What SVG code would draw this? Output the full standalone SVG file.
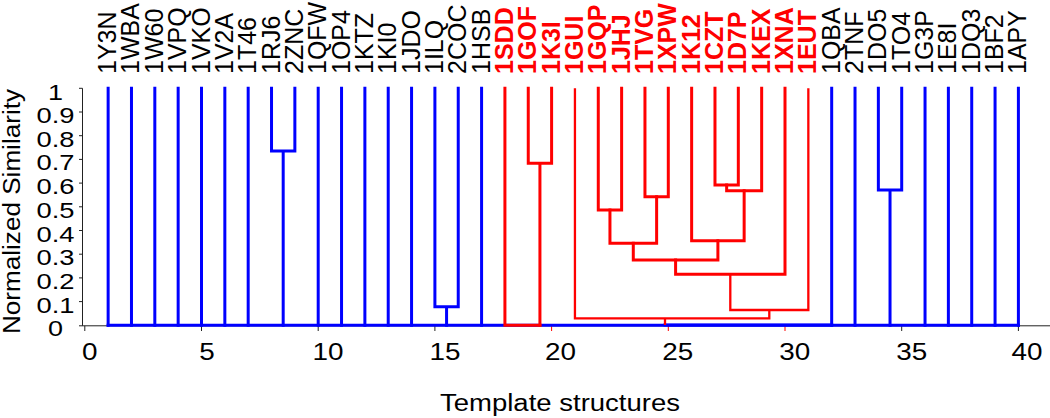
<svg xmlns="http://www.w3.org/2000/svg" width="1050" height="418" viewBox="0 0 1050 418">
<style>
.b{stroke:#0000ff;stroke-width:3;fill:none;stroke-linecap:square}
.r{stroke:#ff0000;stroke-width:3;fill:none;stroke-linecap:square}
.rt{stroke:#ff0000;stroke-width:2.3;fill:none}
.ax{stroke:#222;stroke-width:1;fill:none}
.tk{font-family:"Liberation Sans",Arial,sans-serif;font-size:22.5px;fill:#000;text-anchor:middle}
.xt{font-family:"Liberation Sans",Arial,sans-serif;font-size:23px;fill:#000;text-anchor:middle}
.ttl{font-family:"Liberation Sans",Arial,sans-serif;font-size:23px;fill:#000}
.lab{font-family:"Liberation Sans",Arial,sans-serif;font-size:25px;fill:#000}
.lr{fill:#ff0000;font-weight:bold}
</style>
<rect width="1050" height="418" fill="#fff"/>
<g id="axes">
<path class="ax" d="M79 325.8 H1050 M82.5 88.3 V325.8"/>
<path class="ax" d="M79 88.3 H82.5 M79 112 H82.5 M79 135.7 H82.5 M79 159.4 H82.5 M79 183.1 H82.5 M79 206.8 H82.5 M79 230.5 H82.5 M79 254.2 H82.5 M79 277.9 H82.5 M79 301.6 H82.5"/>
<path class="ax" d="M84.8 325.8 V331 M201.5 325.8 V331 M318.2 325.8 V331 M434.9 325.8 V331 M901.7 325.8 V331 M1018.4 325.8 V331"/>
<path d="M551.6 325.8 V331 M668.3 325.8 V331 M785 325.8 V331" stroke="#ff0000" stroke-width="1" fill="none"/>
<text class="tk" x="55.5" y="336.3" textLength="15" lengthAdjust="spacingAndGlyphs">0</text>
<text class="tk" x="55.5" y="312.6" textLength="38" lengthAdjust="spacingAndGlyphs">0.1</text>
<text class="tk" x="55.5" y="288.9" textLength="38" lengthAdjust="spacingAndGlyphs">0.2</text>
<text class="tk" x="55.5" y="265.2" textLength="38" lengthAdjust="spacingAndGlyphs">0.3</text>
<text class="tk" x="55.5" y="241.5" textLength="38" lengthAdjust="spacingAndGlyphs">0.4</text>
<text class="tk" x="55.5" y="217.8" textLength="38" lengthAdjust="spacingAndGlyphs">0.5</text>
<text class="tk" x="55.5" y="194.1" textLength="38" lengthAdjust="spacingAndGlyphs">0.6</text>
<text class="tk" x="55.5" y="170.4" textLength="38" lengthAdjust="spacingAndGlyphs">0.7</text>
<text class="tk" x="55.5" y="146.7" textLength="38" lengthAdjust="spacingAndGlyphs">0.8</text>
<text class="tk" x="55.5" y="123" textLength="38" lengthAdjust="spacingAndGlyphs">0.9</text>
<text class="tk" x="55.5" y="99.8" textLength="15" lengthAdjust="spacingAndGlyphs">1</text>
<text class="xt" x="89.7" y="360" textLength="15.5" lengthAdjust="spacingAndGlyphs">0</text>
<text class="xt" x="207" y="360" textLength="15.5" lengthAdjust="spacingAndGlyphs">5</text>
<text class="xt" x="328" y="360" textLength="31" lengthAdjust="spacingAndGlyphs">10</text>
<text class="xt" x="445" y="360" textLength="31" lengthAdjust="spacingAndGlyphs">15</text>
<text class="xt" x="560.5" y="360" textLength="31" lengthAdjust="spacingAndGlyphs">20</text>
<text class="xt" x="677.7" y="360" textLength="31" lengthAdjust="spacingAndGlyphs">25</text>
<text class="xt" x="794.7" y="360" textLength="31" lengthAdjust="spacingAndGlyphs">30</text>
<text class="xt" x="911.7" y="360" textLength="31" lengthAdjust="spacingAndGlyphs">35</text>
<text class="xt" x="1027" y="360" textLength="31" lengthAdjust="spacingAndGlyphs">40</text>
<text class="ttl" x="440" y="410.5" textLength="240" lengthAdjust="spacingAndGlyphs">Template structures</text>
<text class="ttl" transform="translate(19.5,334) rotate(-90)" x="0" y="0" textLength="245" lengthAdjust="spacingAndGlyphs">Normalized Similarity</text>
</g>
<g id="connectors">
<path class="b" d="M108.14 88.3 V325.3 M131.48 88.3 V325.3 M154.82 88.3 V325.3 M178.16 88.3 V325.3 M201.5 88.3 V325.3 M224.84 88.3 V325.3 M248.18 88.3 V325.3 M318.2 88.3 V325.3 M341.54 88.3 V325.3 M364.88 88.3 V325.3 M388.22 88.3 V325.3 M411.56 88.3 V325.3 M481.58 88.3 V325.3 M831.68 88.3 V325.3 M855.02 88.3 V325.3 M925.04 88.3 V325.3 M948.38 88.3 V325.3 M971.72 88.3 V325.3 M995.06 88.3 V325.3 M1018.4 88.3 V325.3"/>
<path class="b" d="M271.52 88.3 V151 H294.86 V88.3 M283.19 151 V325.3"/>
<path class="b" d="M434.9 88.3 V306.7 H458.24 V88.3 M446.57 306.7 V325.3"/>
<path class="b" d="M878.36 88.3 V190 H901.7 V88.3 M890.03 190 V325.3"/>
<path class="b" d="M108.14 325.3 H1018.4"/>
<path class="b" stroke-width="3.6" d="M665 324.9 H831.68"/>
<path class="r" d="M504.92 88.3 V325.3 H539.93"/>
<path class="r" d="M528.26 88.3 V163.3 H551.6 V88.3 M539.93 163.3 V325.3"/>
<path class="r" d="M598.28 88.3 V210 H621.62 V88.3"/>
<path class="r" d="M644.96 88.3 V196.7 H668.3 V88.3"/>
<path class="r" d="M609.95 210 V243.3 H656.63 V196.7"/>
<path class="r" d="M714.98 88.3 V185 H738.32 V88.3"/>
<path class="r" d="M726.65 185 V190.7 H761.66 V88.3"/>
<path class="r" d="M691.64 88.3 V240.7 H744.15 V190.7"/>
<path class="r" d="M633.29 243.3 V260 H717.9 V240.7"/>
<path class="r" d="M675.6 260 V274.3 H785 V88.3"/>
<path class="rt" d="M730.3 274.3 V310 H808.34 V88.3"/>
<path class="rt" d="M574.94 88.3 V318.3 H769.3 V310"/>
<path class="rt" d="M665 318.3 V325"/>
</g>
<g id="leaf-1Y3N"><text class="lab" transform="translate(116.14,74) rotate(-90)">1Y3N</text></g>
<g id="leaf-1WBA"><text class="lab" transform="translate(139.48,74) rotate(-90)">1WBA</text></g>
<g id="leaf-1W60"><text class="lab" transform="translate(162.82,74) rotate(-90)">1W60</text></g>
<g id="leaf-1VPQ"><text class="lab" transform="translate(186.16,74) rotate(-90)">1VPQ</text></g>
<g id="leaf-1VKO"><text class="lab" transform="translate(209.5,74) rotate(-90)">1VKO</text></g>
<g id="leaf-1V2A"><text class="lab" transform="translate(232.84,74) rotate(-90)">1V2A</text></g>
<g id="leaf-1T46"><text class="lab" transform="translate(256.18,74) rotate(-90)">1T46</text></g>
<g id="leaf-1RJ6"><text class="lab" transform="translate(279.52,74) rotate(-90)">1RJ6</text></g>
<g id="leaf-2ZNC"><text class="lab" transform="translate(302.86,74) rotate(-90)">2ZNC</text></g>
<g id="leaf-1QFW"><text class="lab" transform="translate(326.2,74) rotate(-90)">1QFW</text></g>
<g id="leaf-1OP4"><text class="lab" transform="translate(349.54,74) rotate(-90)">1OP4</text></g>
<g id="leaf-1KTZ"><text class="lab" transform="translate(372.88,74) rotate(-90)">1KTZ</text></g>
<g id="leaf-1KI0"><text class="lab" transform="translate(396.22,74) rotate(-90)">1KI0</text></g>
<g id="leaf-1JDO"><text class="lab" transform="translate(419.56,74) rotate(-90)">1JDO</text></g>
<g id="leaf-1ILQ"><text class="lab" transform="translate(442.9,74) rotate(-90)">1ILQ</text></g>
<g id="leaf-2COC"><text class="lab" transform="translate(466.24,74) rotate(-90)">2COC</text></g>
<g id="leaf-1HSB"><text class="lab" transform="translate(489.58,74) rotate(-90)">1HSB</text></g>
<g id="leaf-1SDD"><text class="lab lr" transform="translate(512.92,74) rotate(-90)">1SDD</text></g>
<g id="leaf-1GOF"><text class="lab lr" transform="translate(536.26,74) rotate(-90)">1GOF</text></g>
<g id="leaf-1K3I"><text class="lab lr" transform="translate(559.6,74) rotate(-90)">1K3I</text></g>
<g id="leaf-1GUI"><text class="lab lr" transform="translate(582.94,74) rotate(-90)">1GUI</text></g>
<g id="leaf-1GQP"><text class="lab lr" transform="translate(606.28,74) rotate(-90)">1GQP</text></g>
<g id="leaf-1JHJ"><text class="lab lr" transform="translate(629.62,74) rotate(-90)">1JHJ</text></g>
<g id="leaf-1TVG"><text class="lab lr" transform="translate(652.96,74) rotate(-90)">1TVG</text></g>
<g id="leaf-1XPW"><text class="lab lr" transform="translate(676.3,74) rotate(-90)">1XPW</text></g>
<g id="leaf-1K12"><text class="lab lr" transform="translate(699.64,74) rotate(-90)">1K12</text></g>
<g id="leaf-1CZT"><text class="lab lr" transform="translate(722.98,74) rotate(-90)">1CZT</text></g>
<g id="leaf-1D7P"><text class="lab lr" transform="translate(746.32,74) rotate(-90)">1D7P</text></g>
<g id="leaf-1KEX"><text class="lab lr" transform="translate(769.66,74) rotate(-90)">1KEX</text></g>
<g id="leaf-1XNA"><text class="lab lr" transform="translate(793,74) rotate(-90)">1XNA</text></g>
<g id="leaf-1EUT"><text class="lab lr" transform="translate(816.34,74) rotate(-90)">1EUT</text></g>
<g id="leaf-1QBA"><text class="lab" transform="translate(839.68,74) rotate(-90)">1QBA</text></g>
<g id="leaf-2TNF"><text class="lab" transform="translate(863.02,74) rotate(-90)">2TNF</text></g>
<g id="leaf-1DO5"><text class="lab" transform="translate(886.36,74) rotate(-90)">1DO5</text></g>
<g id="leaf-1TO4"><text class="lab" transform="translate(909.7,74) rotate(-90)">1TO4</text></g>
<g id="leaf-1G3P"><text class="lab" transform="translate(933.04,74) rotate(-90)">1G3P</text></g>
<g id="leaf-1E8I"><text class="lab" transform="translate(956.38,74) rotate(-90)">1E8I</text></g>
<g id="leaf-1DQ3"><text class="lab" transform="translate(979.72,74) rotate(-90)">1DQ3</text></g>
<g id="leaf-1BF2"><text class="lab" transform="translate(1003.06,74) rotate(-90)">1BF2</text></g>
<g id="leaf-1APY"><text class="lab" transform="translate(1026.4,74) rotate(-90)">1APY</text></g>
</svg>
